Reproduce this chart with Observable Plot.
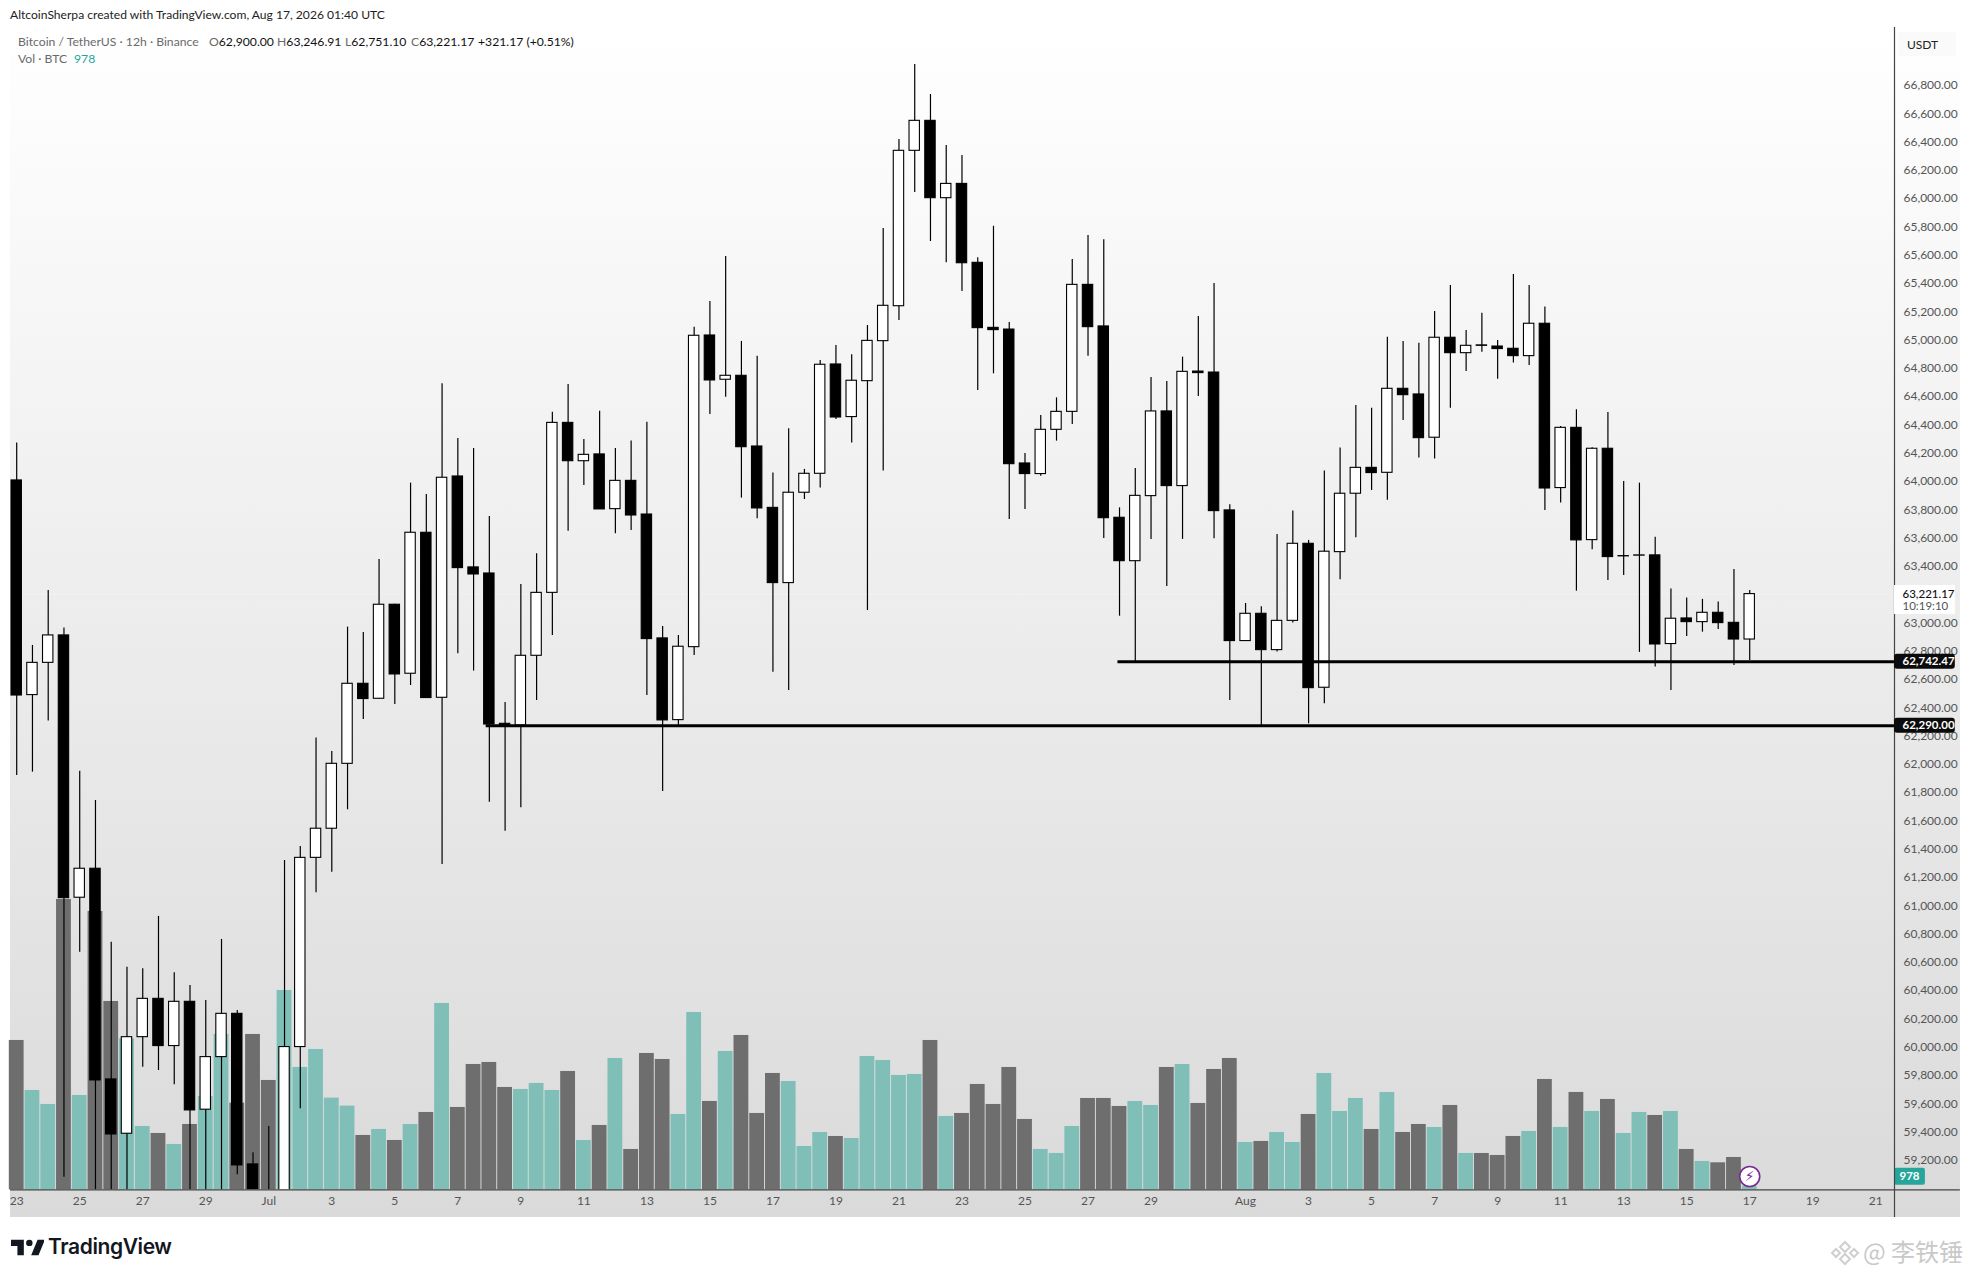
<!DOCTYPE html>
<html>
<head>
<meta charset="utf-8">
<script src="https://cdn.jsdelivr.net/npm/d3@7"></script>
<script src="https://cdn.jsdelivr.net/npm/@observablehq/plot@0.6"></script>
<style>
html,body{margin:0;padding:0;background:#fff;width:1970px;height:1277px;overflow:hidden;font-family:"Lato","Noto Sans",sans-serif}
.abs{position:absolute;white-space:nowrap}
#panel{position:absolute;left:10px;top:27px;width:1950px;height:1190px;background:linear-gradient(#ffffff,#dadada)}
#vol,#price{position:absolute;left:0;top:0}
#vol svg,#price svg{background:transparent;display:block}
.g{color:#6a6a6a}.k{color:#111}
.leg{font-size:12.2px;line-height:16px}
</style>
</head>
<body>
<div id="panel"></div>
<div id="vol"></div>
<div id="price"></div>
<div class="abs" style="left:10px;top:7px;font-size:12.1px;line-height:16px;color:#222">AltcoinSherpa created with TradingView.com, Aug 17, 2026 01:40 UTC</div>
<div class="abs leg g" style="left:18px;top:34px">Bitcoin / TetherUS · 12h · Binance</div>
<div class="abs leg" style="left:209px;top:34px"><span class="g">O</span><span class="k">62,900.00</span></div>
<div class="abs leg" style="left:277px;top:34px"><span class="g">H</span><span class="k">63,246.91</span></div>
<div class="abs leg" style="left:345px;top:34px"><span class="g">L</span><span class="k">62,751.10</span></div>
<div class="abs leg" style="left:411px;top:34px"><span class="g">C</span><span class="k">63,221.17</span></div>
<div class="abs leg k" style="left:478px;top:34px">+321.17 (+0.51%)</div>
<div class="abs leg g" style="left:18px;top:51px">Vol · BTC</div>
<div class="abs leg" style="left:74px;top:51px;color:#26a69a">978</div>
<div class="abs" style="left:1898px;top:32px;width:58px;height:24px;background:#fafafa;border-radius:3px;box-sizing:border-box;padding-left:9px;font-size:12px;line-height:26px;color:#222">USDT</div>
<svg class="abs" style="left:11px;top:1235px" width="33" height="24" viewBox="0 0 36 26"><path fill="#131722" d="M14 5H0v7h7v10h7V5zm16 17h-8l7-17h8l-7 17zm-10-10a3.500 3.500 0 100-7 3.500 3.500 0 000 7z"/></svg>
<div class="abs" style="left:48px;top:1232px;font-size:21px;line-height:30px;font-weight:600;color:#131722;letter-spacing:-.4px;font-family:Inter,'Noto Sans',sans-serif">TradingView</div>
<svg class="abs" style="left:1830px;top:1238px" width="30" height="30" viewBox="0 0 30 30"><g fill="none" stroke="#cfcfcf" stroke-width="2"><path d="M15 4l5 5-5 5-5-5z"/><path d="M6 11l4 4-4 4-4-4z"/><path d="M24 11l4 4-4 4-4-4z"/><path d="M15 16l5 5-5 5-5-5z"/></g></svg>
<div class="abs" style="left:1863px;top:1236px;font-size:24px;line-height:30px;color:#c9c9c9;font-family:'Noto Sans CJK SC',sans-serif">@ 李铁锤</div>
<script>
// candles, one per 12 hours, starting 23 June
const open = [64025,62507,62735,62929,61074,61279,59789,59405,60088,60359,60025,60338,59575,59947,60253,59188,58950,58900,60018,61356,61562,62021,62587,62481,63146,62658,63655,62488,64053,63410,63367,62304,62292,62785,63230,64432,64161,64209,63822,64022,63784,62908,62330,62846,65050,64737,64765,64265,63831,63299,63938,64072,64845,64473,64727,65010,65257,66356,66568,66021,66122,65564,65104,65092,64145,64070,64383,64510,65408,65114,63761,63454,63914,64513,63985,64795,64788,63813,62889,63082,62825,63032,63577,62559,63518,63931,64114,64079,64673,64633,64327,65034,64925,64980,64972,64956,64904,65133,63971,64397,63603,64249,63488,63493,63495,62868,63049,63023,63089,63018,62900];
const close = [62504,62735,62929,61071,61279,59782,59400,60088,60359,60025,60338,59570,59947,60253,59181,58980,58700,60018,61356,61562,62021,62587,62479,63146,62653,63655,62486,64044,63405,63360,62299,62290,62785,63230,64432,64161,64206,63820,64022,63777,62903,62328,62849,65048,64732,64765,64260,63827,63299,63938,64072,64843,64470,64730,65012,65260,66356,66568,66021,66122,65561,65102,65088,64140,64070,64383,64510,65408,65109,63758,63454,63916,64513,63985,64793,64784,63808,62889,63082,62825,63032,63577,62556,63521,63931,64114,64077,64673,64628,64324,65034,64925,64977,64977,64954,64904,65133,63968,64397,63601,64249,63483,63490,63495,62865,63047,63023,63089,63016,62900,63221.17];
const high = [64289,62858,63247,62981,61969,61762,60760,60583,60572,60942,60543,60454,60348,60779,60277,59270,59457,61338,61437,62203,62108,62988,62950,63466,63150,64006,63926,64708,64322,64251,63770,62455,63289,63506,64508,64704,64315,64515,64251,64303,64437,62992,62929,65109,65290,65609,65008,64904,64077,64390,64103,64873,64979,64913,65121,65807,66436,66966,66754,66394,66323,65599,65823,65142,64216,64484,64609,65587,65757,65727,63831,64110,64753,64725,64897,65184,65418,63853,63155,63131,63643,63808,63601,64091,64254,64555,64536,65038,65008,64996,65220,65404,65086,65208,65015,65482,65404,65251,64407,64525,64256,64506,64018,64006,63624,63257,63193,63184,63165,63396,63246.91];
const low = [61939,61962,62323,59098,60689,58990,58990,58990,59876,59853,59751,58990,58990,58990,59115,58990,58600,58800,59582,61109,61255,61696,62335,62481,62441,62575,62486,61309,62799,62677,61750,61545,61710,62469,62929,63666,63989,63820,63648,63671,62504,61826,62290,62787,64491,64614,63900,63754,62669,62540,63890,63971,64456,64289,63105,64091,65156,66061,65715,65564,65361,64661,64779,63749,63820,64055,64303,64421,64904,63615,63065,62742,63608,63275,63608,64619,63612,62469,62889,62290,62811,63016,62304,62446,63323,63620,63954,63884,64449,64183,64176,64536,64796,64932,64741,64855,64838,63813,63865,63242,63535,63318,63353,62809,62705,62540,62922,62952,62971,62717,62751.10];
const volume = [44800,29800,25600,87100,28300,83500,56500,45300,19000,16900,13600,19600,28000,46600,26000,46600,32800,59800,36700,42100,27500,25100,16300,18100,14800,19600,23200,55900,24700,37600,38200,30700,30100,31900,29800,35500,14800,19300,39400,12100,40900,39100,22600,53200,26500,41500,46300,22900,34900,32500,13000,17200,16000,15400,40000,38800,34300,34600,44800,22000,22900,31600,25600,36700,21100,12100,10900,19000,27400,27400,25000,26500,25300,36700,37600,25900,36100,39400,14200,14500,17200,14200,22600,34900,23500,27400,18100,29200,17200,19600,18700,25300,10900,10900,10300,16000,17500,33100,18700,29200,23500,27100,16900,23200,22300,23500,12100,8500,8100,9700,978];

// axes
const priceTicks = d3.range(59200, 66801, 200).filter(p => p !== 63200);
const timeTickIndex = [0,4,8,12,16,20,24,28,32,36,40,44,48,52,56,60,64,68,72,78,82,86,90,94,98,102,106,110,114,118];
const timeTickLabels = ["23","25","27","29","Jul","3","5","7","9","11","13","15","17","19","21","23","25","27","29","Aug","3","5","7","9","11","13","15","17","19","21"];

// drawn support levels and price tags
const levels = [{price:62290, from:29.8, label:"62,290.00"},{price:62742.47, from:69.9, label:"62,742.47"}];
const lastPrice = 63221.17, lastLabel = "63,221.17", countdown = "10:19:10";
const lastVolume = 978;

// scale domains
const W = 1970, H = 1277;
const margins = {marginLeft:10, marginRight:76, marginTop:27, marginBottom:87.7};
const xDomain = [-0.3935, 119.19];
const xEnd = 123.37, xTagEnd = 123.05;
const yDomain = [59008.6, 67228];
const yAxisBottom = 58813;
const volDomain = [0, 348690];

const UP = "#7fbfb8", DOWN = "#6e6e6e", TAG = "#26a69a", PURPLE = "#7b2a92";
const FONT = '"Lato","Noto Sans",sans-serif';

const rows = open.map((o,i)=>({i, o, c:close[i], h:high[i], l:low[i], v:volume[i], up:close[i]>=o}));

document.getElementById("vol").append(Plot.plot({
  width:W, height:H, ...margins,
  x:{domain:xDomain, axis:null},
  y:{domain:volDomain, axis:null},
  style:{background:"transparent", fontFamily:FONT},
  marks:[
    Plot.rect(rows,{x1:d=>d.i-0.47,x2:d=>d.i+0.47,y1:0,y2:"v",fill:d=>d.up?UP:DOWN}),
    Plot.rect([lastVolume],{x1:xDomain[1],x2:121.15,y1:1380,y2:6480,fill:TAG,rx:2}),
    Plot.text([lastVolume],{x:xDomain[1],y:3930,dx:15,text:d=>String(d),fill:"#fff",fontWeight:"bold",fontSize:11.5,textAnchor:"middle"}),
    Plot.dot([lastVolume],{x:()=>110,y:3990,r:10,fill:"#fff",stroke:PURPLE,strokeWidth:1.6}),
    Plot.text([lastVolume],{x:()=>110,y:3990,text:()=>"⚡\uFE0E",fill:PURPLE,fontSize:14,fontFamily:"DejaVu Sans"})
  ]
}));

document.getElementById("price").append(Plot.plot({
  width:W, height:H, ...margins,
  x:{domain:xDomain},
  y:{domain:yDomain},
  style:{background:"transparent", fontFamily:FONT, fontSize:"12px"},
  marks:[
    Plot.ruleY([lastPrice],{stroke:"#fff",strokeDasharray:"1 3",strokeOpacity:.9}),
    Plot.ruleX(rows,{x:"i",y1:"l",y2:"h",stroke:"#000",strokeWidth:1.2,clip:true}),
    Plot.rect(rows,{x1:d=>d.i-0.33,x2:d=>d.i+0.33,y1:"o",y2:"c",fill:d=>d.up?"#fff":"#000",stroke:"#000",strokeWidth:1.1,clip:true}),
    Plot.ruleY(levels,{y:"price",x1:"from",x2:()=>xDomain[1],stroke:"#000",strokeWidth:3}),
    Plot.ruleX([xDomain[1]],{y1:yAxisBottom,y2:yDomain[1],stroke:"#444",strokeWidth:1.2}),
    Plot.ruleY([yDomain[0]],{x1:xDomain[0],x2:xEnd,stroke:"#444",strokeWidth:1.2}),
    Plot.axisY(priceTicks,{anchor:"right",tickSize:0,tickPadding:9,dy:-2.5,label:null,tickFormat:d3.format(",.2f"),fill:"#555"}),
    Plot.axisX(timeTickIndex,{anchor:"bottom",tickSize:0,tickPadding:7,label:null,tickFormat:(d,k)=>timeTickLabels[timeTickIndex.indexOf(d)],fill:"#555"}),
    Plot.rect([lastPrice],{x1:xDomain[1],x2:xTagEnd,y1:63077,y2:63282,fill:"#fff"}),
    Plot.text([lastLabel],{x:xDomain[1],y:()=>lastPrice,dx:8,text:d=>d,fill:"#111",fontWeight:"500",fontSize:11.5,textAnchor:"start"}),
    Plot.text([countdown],{x:xDomain[1],y:()=>63133,dx:8,text:d=>d,fill:"#555",fontSize:11.5,textAnchor:"start"}),
    Plot.rect(levels,{x1:xDomain[1],x2:xTagEnd,y1:d=>d.price-53,y2:d=>d.price+53,fill:"#0b0b0b",rx:3}),
    Plot.text(levels,{x:xDomain[1],y:"price",dx:8,text:"label",fill:"#fff",fontWeight:"bold",fontSize:11.5,textAnchor:"start"})
  ]
}));
</script>
</body>
</html>
